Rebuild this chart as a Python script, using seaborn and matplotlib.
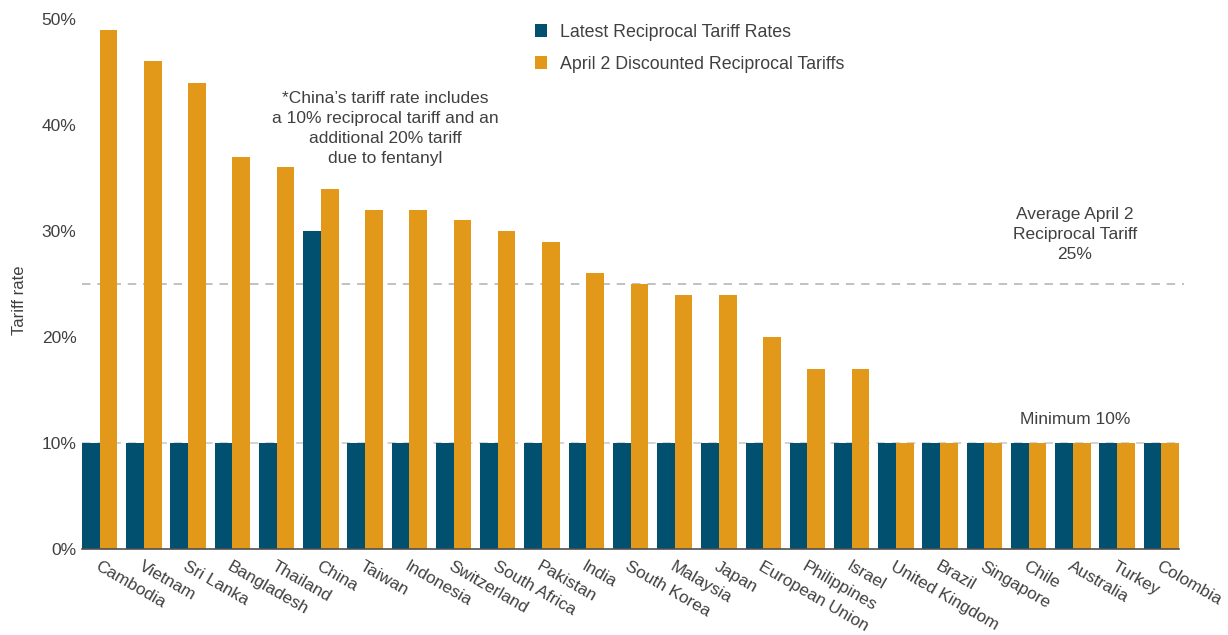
import matplotlib
matplotlib.use("Agg")
import matplotlib.pyplot as plt
import seaborn as sns
import pandas as pd
from matplotlib.patches import Patch

countries = ["Cambodia", "Vietnam", "Sri Lanka", "Bangladesh", "Thailand", "China", "Taiwan",
             "Indonesia", "Switzerland", "South Africa", "Pakistan", "India", "South Korea",
             "Malaysia", "Japan", "European Union", "Philippines", "Israel", "United Kingdom",
             "Brazil", "Singapore", "Chile", "Australia", "Turkey", "Colombia"]
latest = [10, 10, 10, 10, 10, 30, 10, 10, 10, 10, 10, 10, 10, 10, 10, 10, 10, 10, 10, 10, 10, 10, 10, 10, 10]
april2 = [49, 46, 44, 37, 36, 34, 32, 32, 31, 30, 29, 26, 25, 24, 24, 20, 17, 17, 10, 10, 10, 10, 10, 10, 10]
series_names = ["Latest Reciprocal Tariff Rates", "April 2 Discounted Reciprocal Tariffs"]
yticks = [0, 10, 20, 30, 40, 50]
average_line = 25
minimum_line = 10

colors = ["#02506F", "#E2991A"]
text_color = "#404040"

df = pd.DataFrame({
    "country": countries * 2,
    "rate": latest + april2,
    "series": [series_names[0]] * len(countries) + [series_names[1]] * len(countries),
})

sns.set_style("white")
plt.rcParams["font.family"] = ["Liberation Sans", "DejaVu Sans"]

fig = plt.figure(figsize=(12.28, 6.35), dpi=100)
ax = fig.add_axes([82 / 1228, 86 / 635, (1179 - 82) / 1228, (549 - 19) / 635])

ax.axhline(minimum_line, color="#C8C8C8", lw=1.1, ls=(0, (5.5, 4.5)), zorder=0)
ax.axhline(average_line, color="#B0B0B0", lw=1.1, ls=(0, (5.5, 4.5)), zorder=0, xmax=1.005, clip_on=False)

sns.barplot(data=df, x="country", y="rate", hue="series", palette=colors, saturation=1,
            width=0.8, gap=0, ax=ax, legend=False, zorder=2, edgecolor="none")

ax.set_xlim(-0.4, len(countries) - 0.6)
ax.set_ylim(0, 50)
ax.set_yticks(yticks)
ax.set_yticklabels([f"{v}%" for v in yticks], fontsize=12.5, color=text_color)
ax.set_xticks(range(len(countries)))
ax.set_xticklabels(countries, rotation=-30, ha="left", rotation_mode="anchor",
                   fontsize=12.3, color=text_color)
ax.tick_params(axis="y", length=0, pad=4)
ax.tick_params(axis="x", length=0, pad=7)
ax.set_xlabel("")
ax.set_ylabel("Tariff rate", fontsize=12, color=text_color)
ax.yaxis.set_label_coords(-0.05, 0.47)

for s in ["top", "right", "left"]:
    ax.spines[s].set_visible(False)
ax.spines["bottom"].set_color("#505050")
ax.spines["bottom"].set_linewidth(1.2)

handles = [Patch(facecolor=c, edgecolor="none") for c in colors]
fig.legend(handles, series_names, loc="upper left", bbox_to_anchor=(0.4225, 0.988),
           frameon=False, fontsize=12.8, handlelength=0.7, handleheight=0.7,
           handletextpad=0.72, labelspacing=0.86, labelcolor=text_color)

ax.text(6.45, 43.2, "*China\u2019s tariff rate includes\na 10% reciprocal tariff and an\nadditional 20% tariff\ndue to fentanyl",
        ha="center", va="top", fontsize=12.5, color=text_color, linespacing=1.42)
ax.text(22.05, 32.3, "Average April 2\nReciprocal Tariff\n25%", ha="center", va="top",
        fontsize=12.5, color=text_color, linespacing=1.45)
ax.text(22.05, 12.2, "Minimum 10%", ha="center", va="center", fontsize=12.5, color=text_color)

fig.savefig("out.png", dpi=100)
